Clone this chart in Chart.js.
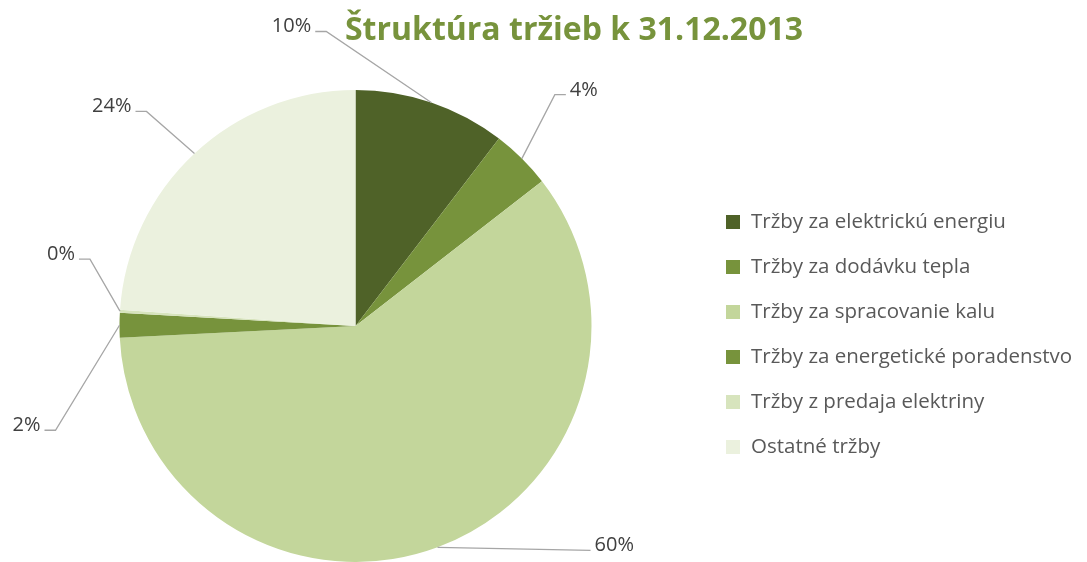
<!DOCTYPE html>
<html>
<head>
<meta charset="utf-8">
<script src="https://cdn.jsdelivr.net/npm/chart.js@4.4.1/dist/chart.umd.min.js"></script>
<style>
  html, body { margin: 0; padding: 0; background: #fff; overflow: hidden; }
  canvas { display: block; }
</style>
</head>
<body>
<canvas id="chart" width="1087" height="562"></canvas>
<script>
// Revenue structure pie, Excel-style: outside % labels with elbow leader lines.
const TITLE = 'Štruktúra tržieb k 31.12.2013';
const categories = [
  'Tržby za elektrickú energiu',
  'Tržby za dodávku tepla',
  'Tržby za spracovanie kalu',
  'Tržby za energetické poradenstvo',
  'Tržby z predaja elektriny',
  'Ostatné tržby',
];
const shares = [10.4, 4.1, 59.7, 1.7, 0.2, 23.9];
const sliceColors = ['#4F6228', '#77933C', '#C3D69B', '#77933C', '#D7E4BD', '#EBF1DE'];

// Leader line elbow offsets from the slice's outer midpoint (px), and label side.
const LEADERS = [
  { dx: -105, dy: -71, side: 'left' },
  { dx: 33, dy: -64, side: 'right' },
  { dx: 153, dy: 3, side: 'right', straight: true },
  { dx: -64, dy: 105, side: 'left' },
  { dx: -30, dy: -52, side: 'left' },
  { dx: -48, dy: -42, side: 'left' },
];

const FONT = '"Open Sans", Lato, sans-serif';

const calloutPlugin = {
  id: 'callouts',
  afterDatasetsDraw(chart) {
    const { ctx } = chart;
    const meta = chart.getDatasetMeta(0);
    const total = shares.reduce((a, b) => a + b, 0);
    ctx.save();
    ctx.strokeStyle = '#A6A6A6';
    ctx.lineWidth = 1.3;
    ctx.fillStyle = '#404040';
    ctx.font = `20px ${FONT}`;
    ctx.textBaseline = 'alphabetic';
    meta.data.forEach((arc, i) => {
      const { x, y, startAngle, endAngle, outerRadius } = arc.getProps(
        ['x', 'y', 'startAngle', 'endAngle', 'outerRadius'], true);
      const mid = (startAngle + endAngle) / 2;
      const ax = x + Math.cos(mid) * outerRadius;
      const ay = y + Math.sin(mid) * outerRadius;
      const cfg = LEADERS[i];
      const ex = ax + cfg.dx;
      const ey = ay + cfg.dy;
      const dir = cfg.side === 'left' ? -1 : 1;
      const hx = cfg.straight ? ex : ex + dir * 11;
      ctx.beginPath();
      ctx.moveTo(ax, ay);
      ctx.lineTo(ex, ey);
      ctx.lineTo(hx, ey);
      ctx.stroke();
      const txt = Math.round(shares[i] / total * 100) + '%';
      ctx.textAlign = cfg.side === 'left' ? 'right' : 'left';
      ctx.fillText(txt, hx + dir * 4, ey + 1);
    });

    // title
    ctx.font = `bold 32px ${FONT}`;
    ctx.fillStyle = '#77933C';
    ctx.textAlign = 'center';
    ctx.fillText(TITLE, 574, 40);

    // legend
    ctx.font = `20.5px ${FONT}`;
    ctx.textAlign = 'left';
    ctx.textBaseline = 'middle';
    categories.forEach((name, i) => {
      const cy = 222 + i * 45;
      ctx.fillStyle = sliceColors[i];
      ctx.fillRect(726, cy - 7, 14, 14);
      ctx.fillStyle = '#595959';
      ctx.fillText(name, 751, cy);
    });
    ctx.restore();
  },
};

new Chart(document.getElementById('chart'), {
  type: 'pie',
  data: {
    labels: categories,
    datasets: [{
      data: shares,
      backgroundColor: sliceColors,
      borderWidth: 0,
    }],
  },
  options: {
    responsive: false,
    animation: false,
    layout: { padding: { left: 119, right: 495, top: 90, bottom: 0 } },
    plugins: {
      legend: { display: false },
      tooltip: { enabled: false },
    },
  },
  plugins: [calloutPlugin],
});
</script>
</body>
</html>
